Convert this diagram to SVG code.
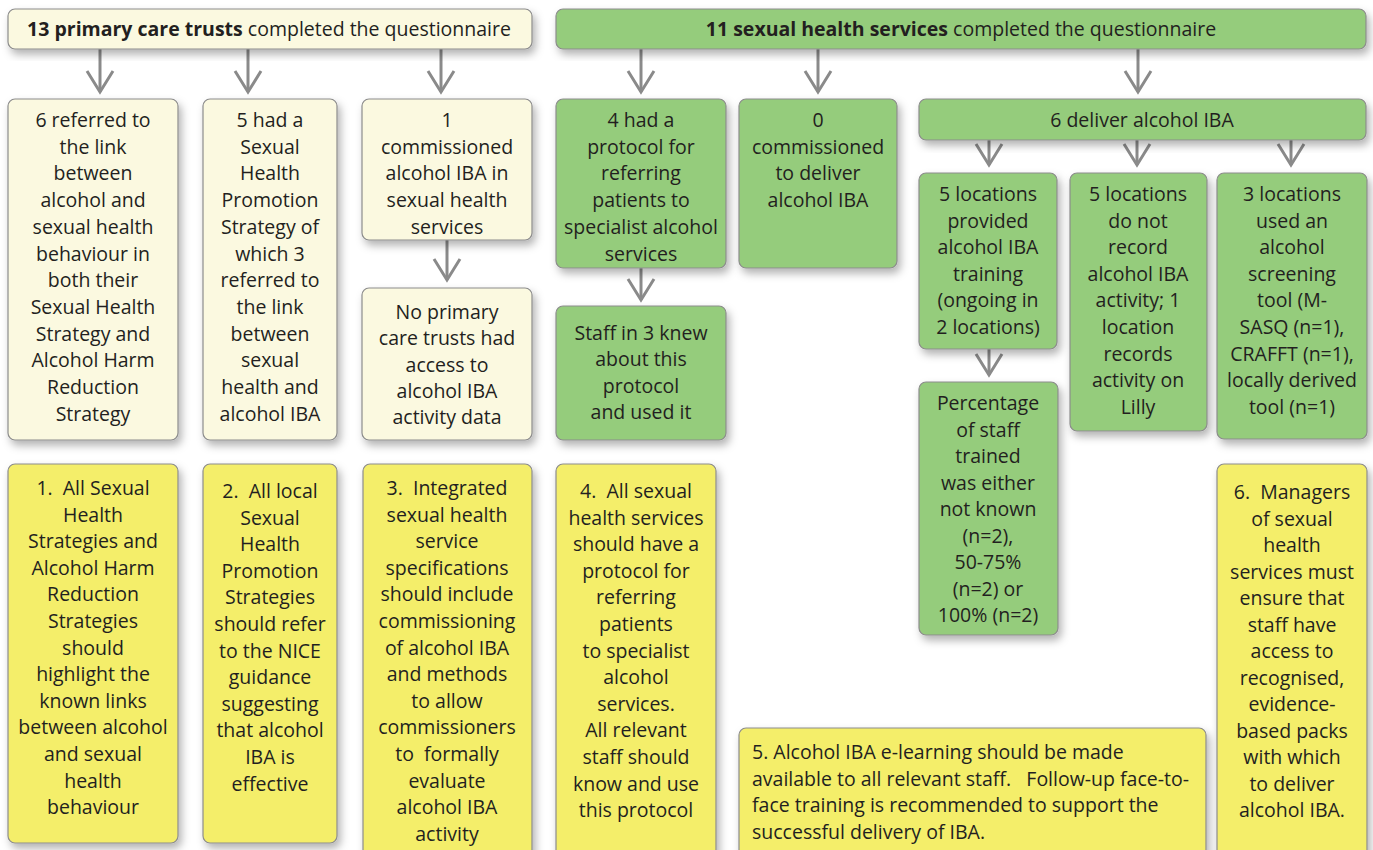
<svg xmlns="http://www.w3.org/2000/svg" width="1373" height="850" viewBox="0 0 1373 850">
<defs>
<filter id="sh" x="-20%" y="-20%" width="150%" height="150%">
<feDropShadow dx="3" dy="5" stdDeviation="4" flood-color="#000" flood-opacity="0.3"/>
</filter>
<marker id="chev" viewBox="-2 -2 26 30" refX="21" refY="13" markerWidth="26" markerHeight="30" markerUnits="userSpaceOnUse" orient="auto">
<path d="M0,0 L21,13 L0,26" fill="none" stroke="#8a8a8a" stroke-width="3"/>
</marker>
</defs>
<style>
.box{stroke:#8c8c8c;stroke-width:1.2;filter:url(#sh)}
.cream{fill:#fbf9e0}
.green{fill:#95cc7c}
.yellow{fill:#f4ee6b}
text{font-family:"Open Sans","Noto Sans","Liberation Sans",sans-serif;font-size:19.5px;fill:#231f20;text-anchor:middle}
.left{text-anchor:start}
.b{font-weight:bold}
.conn path{stroke:#8a8a8a;stroke-width:3;fill:none;marker-end:url(#chev)}
</style>
<rect width="1373" height="850" fill="#ffffff"/>

<g class="conn" id="connectors">
<path d="M100,49 V92"/>
<path d="M248,49 V92"/>
<path d="M441,49 V92"/>
<path d="M641,49 V92"/>
<path d="M818,49 V92"/>
<path d="M1138,49 V92"/>
<path d="M989,140 V165"/>
<path d="M1137,140 V165"/>
<path d="M1291,140 V165"/>
<path d="M447,240 V280"/>
<path d="M641,268 V300"/>
<path d="M989,349 V375"/>
</g>

<g id="pct-header">
<rect class="box cream" x="8" y="9" width="524" height="40" rx="7"/>
<text x="269" y="36"><tspan class="b">13 primary care trusts</tspan> completed the questionnaire</text>
</g>
<g id="shs-header">
<rect class="box green" x="556" y="9" width="810" height="40" rx="7"/>
<text x="961" y="36"><tspan class="b">11 sexual health services</tspan> completed the questionnaire</text>
</g>

<g id="n-link">
<rect class="box cream" x="8" y="99" width="170" height="341" rx="7"/>
<text x="93" y="127"><tspan x="93">6 referred to</tspan><tspan x="93" dy="26.7">the link</tspan><tspan x="93" dy="26.7">between</tspan><tspan x="93" dy="26.7">alcohol and</tspan><tspan x="93" dy="26.7">sexual health</tspan><tspan x="93" dy="26.7">behaviour in</tspan><tspan x="93" dy="26.7">both their</tspan><tspan x="93" dy="26.7">Sexual Health</tspan><tspan x="93" dy="26.7">Strategy and</tspan><tspan x="93" dy="26.7">Alcohol Harm</tspan><tspan x="93" dy="26.7">Reduction</tspan><tspan x="93" dy="26.7">Strategy</tspan></text>
</g>
<g id="n-shps">
<rect class="box cream" x="203" y="99" width="134" height="341" rx="7"/>
<text x="270" y="127"><tspan x="270">5 had a</tspan><tspan x="270" dy="26.7">Sexual</tspan><tspan x="270" dy="26.7">Health</tspan><tspan x="270" dy="26.7">Promotion</tspan><tspan x="270" dy="26.7">Strategy of</tspan><tspan x="270" dy="26.7">which 3</tspan><tspan x="270" dy="26.7">referred to</tspan><tspan x="270" dy="26.7">the link</tspan><tspan x="270" dy="26.7">between</tspan><tspan x="270" dy="26.7">sexual</tspan><tspan x="270" dy="26.7">health and</tspan><tspan x="270" dy="26.7">alcohol IBA</tspan></text>
</g>
<g id="n-commissioned">
<rect class="box cream" x="362" y="99" width="170" height="141" rx="7"/>
<text x="447" y="127"><tspan x="447">1</tspan><tspan x="447" dy="26.7">commissioned</tspan><tspan x="447" dy="26.7">alcohol IBA in</tspan><tspan x="447" dy="26.7">sexual health</tspan><tspan x="447" dy="26.7">services</tspan></text>
</g>
<g id="n-noaccess">
<rect class="box cream" x="362" y="288" width="170" height="152" rx="7"/>
<text x="447" y="319"><tspan x="447">No primary</tspan><tspan x="447" dy="26.3">care trusts had</tspan><tspan x="447" dy="26.3">access to</tspan><tspan x="447" dy="26.3">alcohol IBA</tspan><tspan x="447" dy="26.3">activity data</tspan></text>
</g>

<g id="n-protocol">
<rect class="box green" x="556" y="99" width="170" height="169" rx="7"/>
<text x="641" y="127"><tspan x="641">4 had a</tspan><tspan x="641" dy="26.7">protocol for</tspan><tspan x="641" dy="26.7">referring</tspan><tspan x="641" dy="26.7">patients to</tspan><tspan x="641" dy="26.7">specialist alcohol</tspan><tspan x="641" dy="26.7">services</tspan></text>
</g>
<g id="n-staff3">
<rect class="box green" x="556" y="306" width="170" height="134" rx="7"/>
<text x="641" y="340"><tspan x="641">Staff in 3 knew</tspan><tspan x="641" dy="26.3">about this</tspan><tspan x="641" dy="26.3">protocol</tspan><tspan x="641" dy="26.3">and used it</tspan></text>
</g>
<g id="n-zero">
<rect class="box green" x="739" y="99" width="158" height="169" rx="7"/>
<text x="818" y="127"><tspan x="818">0</tspan><tspan x="818" dy="26.7">commissioned</tspan><tspan x="818" dy="26.7">to deliver</tspan><tspan x="818" dy="26.7">alcohol IBA</tspan></text>
</g>
<g id="n-deliver">
<rect class="box green" x="919" y="99" width="447" height="41" rx="7"/>
<text x="1142" y="127">6 deliver alcohol IBA</text>
</g>
<g id="n-training">
<rect class="box green" x="919" y="173" width="138" height="176" rx="7"/>
<text x="988" y="201"><tspan x="988">5 locations</tspan><tspan x="988" dy="26.6">provided</tspan><tspan x="988" dy="26.6">alcohol IBA</tspan><tspan x="988" dy="26.6">training</tspan><tspan x="988" dy="26.6">(ongoing in</tspan><tspan x="988" dy="26.6">2 locations)</tspan></text>
</g>
<g id="n-percentage">
<rect class="box green" x="919" y="382" width="139" height="253" rx="7"/>
<text x="988" y="410"><tspan x="988">Percentage</tspan><tspan x="988" dy="26.5">of staff</tspan><tspan x="988" dy="26.5">trained</tspan><tspan x="988" dy="26.5">was either</tspan><tspan x="988" dy="26.5">not known</tspan><tspan x="988" dy="26.5">(n=2),</tspan><tspan x="988" dy="26.5">50-75%</tspan><tspan x="988" dy="26.5">(n=2) or</tspan><tspan x="988" dy="26.5">100% (n=2)</tspan></text>
</g>
<g id="n-record">
<rect class="box green" x="1070" y="173" width="137" height="258" rx="7"/>
<text x="1138" y="201"><tspan x="1138">5 locations</tspan><tspan x="1138" dy="26.6">do not</tspan><tspan x="1138" dy="26.6">record</tspan><tspan x="1138" dy="26.6">alcohol IBA</tspan><tspan x="1138" dy="26.6">activity; 1</tspan><tspan x="1138" dy="26.6">location</tspan><tspan x="1138" dy="26.6">records</tspan><tspan x="1138" dy="26.6">activity on</tspan><tspan x="1138" dy="26.6">Lilly</tspan></text>
</g>
<g id="n-tool">
<rect class="box green" x="1217" y="173" width="150" height="266" rx="7"/>
<text x="1292" y="201"><tspan x="1292">3 locations</tspan><tspan x="1292" dy="26.6">used an</tspan><tspan x="1292" dy="26.6">alcohol</tspan><tspan x="1292" dy="26.6">screening</tspan><tspan x="1292" dy="26.6">tool (M-</tspan><tspan x="1292" dy="26.6">SASQ (n=1),</tspan><tspan x="1292" dy="26.6">CRAFFT (n=1),</tspan><tspan x="1292" dy="26.6">locally derived</tspan><tspan x="1292" dy="26.6">tool (n=1)</tspan></text>
</g>

<g id="r1">
<rect class="box yellow" x="8" y="464" width="170" height="379" rx="7"/>
<text x="93" y="495"><tspan x="93" xml:space="preserve">1.  All Sexual</tspan><tspan x="93" dy="26.6">Health</tspan><tspan x="93" dy="26.6">Strategies and</tspan><tspan x="93" dy="26.6">Alcohol Harm</tspan><tspan x="93" dy="26.6">Reduction</tspan><tspan x="93" dy="26.6">Strategies</tspan><tspan x="93" dy="26.6">should</tspan><tspan x="93" dy="26.6">highlight the</tspan><tspan x="93" dy="26.6">known links</tspan><tspan x="93" dy="26.6">between alcohol</tspan><tspan x="93" dy="26.6">and sexual</tspan><tspan x="93" dy="26.6">health</tspan><tspan x="93" dy="26.6">behaviour</tspan></text>
</g>
<g id="r2">
<rect class="box yellow" x="203" y="464" width="134" height="379" rx="7"/>
<text x="270" y="498"><tspan x="270" xml:space="preserve">2.  All local</tspan><tspan x="270" dy="26.6">Sexual</tspan><tspan x="270" dy="26.6">Health</tspan><tspan x="270" dy="26.6">Promotion</tspan><tspan x="270" dy="26.6">Strategies</tspan><tspan x="270" dy="26.6">should refer</tspan><tspan x="270" dy="26.6">to the NICE</tspan><tspan x="270" dy="26.6">guidance</tspan><tspan x="270" dy="26.6">suggesting</tspan><tspan x="270" dy="26.6">that alcohol</tspan><tspan x="270" dy="26.6">IBA is</tspan><tspan x="270" dy="26.6">effective</tspan></text>
</g>
<g id="r3">
<rect class="box yellow" x="363" y="464" width="169" height="400" rx="7"/>
<text x="447" y="495"><tspan x="447" xml:space="preserve">3.  Integrated</tspan><tspan x="447" dy="26.6">sexual health</tspan><tspan x="447" dy="26.6">service</tspan><tspan x="447" dy="26.6">specifications</tspan><tspan x="447" dy="26.6">should include</tspan><tspan x="447" dy="26.6">commissioning</tspan><tspan x="447" dy="26.6">of alcohol IBA</tspan><tspan x="447" dy="26.6">and methods</tspan><tspan x="447" dy="26.6">to allow</tspan><tspan x="447" dy="26.6">commissioners</tspan><tspan x="447" dy="26.6" xml:space="preserve">to  formally</tspan><tspan x="447" dy="26.6">evaluate</tspan><tspan x="447" dy="26.6">alcohol IBA</tspan><tspan x="447" dy="26.6">activity</tspan></text>
</g>
<g id="r4">
<rect class="box yellow" x="556" y="464" width="160" height="400" rx="7"/>
<text x="636" y="498"><tspan x="636" xml:space="preserve">4.  All sexual</tspan><tspan x="636" dy="26.6">health services</tspan><tspan x="636" dy="26.6">should have a</tspan><tspan x="636" dy="26.6">protocol for</tspan><tspan x="636" dy="26.6">referring</tspan><tspan x="636" dy="26.6">patients</tspan><tspan x="636" dy="26.6">to specialist</tspan><tspan x="636" dy="26.6">alcohol</tspan><tspan x="636" dy="26.6">services.</tspan><tspan x="636" dy="26.6">All relevant</tspan><tspan x="636" dy="26.6">staff should</tspan><tspan x="636" dy="26.6">know and use</tspan><tspan x="636" dy="26.6">this protocol</tspan></text>
</g>
<g id="r5">
<rect class="box yellow" x="739" y="728" width="467" height="136" rx="7"/>
<text class="left" x="752" y="759"><tspan x="752">5. Alcohol IBA e-learning should be made</tspan><tspan x="752" dy="26.6" xml:space="preserve">available to all relevant staff.   Follow-up face-to-</tspan><tspan x="752" dy="26.6">face training is recommended to support the</tspan><tspan x="752" dy="26.6">successful delivery of IBA.</tspan></text>
</g>
<g id="r6">
<rect class="box yellow" x="1217" y="464" width="150" height="400" rx="7"/>
<text x="1292" y="499"><tspan x="1292" xml:space="preserve">6.  Managers</tspan><tspan x="1292" dy="26.5">of sexual</tspan><tspan x="1292" dy="26.5">health</tspan><tspan x="1292" dy="26.5">services must</tspan><tspan x="1292" dy="26.5">ensure that</tspan><tspan x="1292" dy="26.5">staff have</tspan><tspan x="1292" dy="26.5">access to</tspan><tspan x="1292" dy="26.5">recognised,</tspan><tspan x="1292" dy="26.5">evidence-</tspan><tspan x="1292" dy="26.5">based packs</tspan><tspan x="1292" dy="26.5">with which</tspan><tspan x="1292" dy="26.5">to deliver</tspan><tspan x="1292" dy="26.5">alcohol IBA.</tspan></text>
</g>
</svg>
